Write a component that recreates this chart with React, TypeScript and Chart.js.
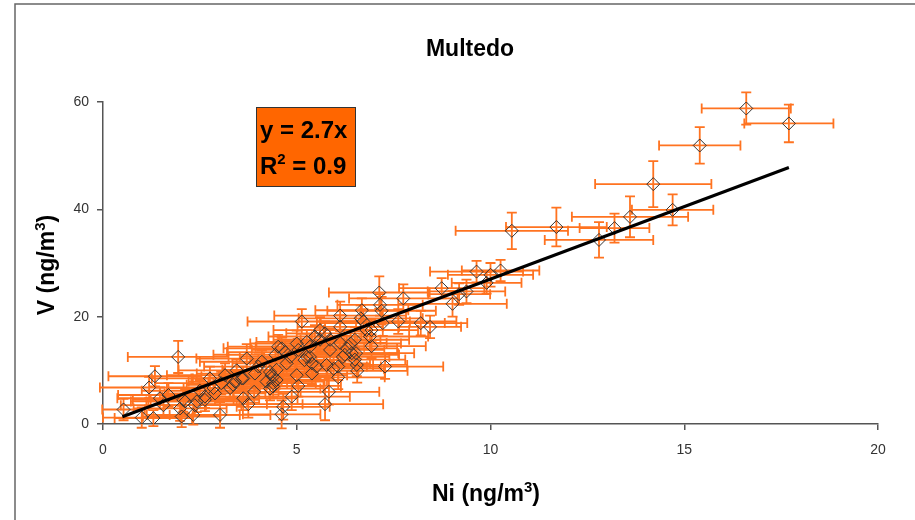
import React, { useEffect, useRef } from "react";
import { Chart, registerables } from "chart.js";

Chart.register(...registerables);

// ---- Data ----
const chartTitle = "Multedo";
const xTitleMain = "Ni (ng/m";
const yTitleMain = "V (ng/m";
const unitSup = "3";
const eqLine1 = "y = 2.7x";
const eqLine2Pre = "R";
const eqLine2Sup = "2";
const eqLine2Post = " = 0.9";

const niValues = [
  16.6, 17.7, 15.4, 14.2, 14.7, 13.6, 13.2, 12.8, 11.7, 10.55,
  10.26, 10.0, 9.9, 9.64, 9.38, 9.19, 9.02, 8.74, 8.44, 8.2,
  7.75, 7.62, 7.22, 7.13, 7.15, 7.19, 6.68, 6.65, 6.93, 7.28,
  6.56, 6.12, 6.12, 6.39, 6.53, 6.19, 6.07, 6.07, 5.83, 5.73,
  5.13, 5.6, 5.73, 5.86, 5.47, 5.34, 5.26, 5.51, 5.77, 5.86,
  5.04, 5.0, 5.04, 4.87, 4.65, 4.61, 4.39, 4.22, 4.35, 4.48,
  3.71, 3.92, 3.9, 3.75, 3.36, 4.52, 4.61, 5.0, 4.74, 4.83,
  5.39, 6.29, 0.53, 1.0, 1.3, 1.19, 1.34, 1.94, 1.47, 1.69,
  1.99, 2.03, 2.33, 2.12, 2.42, 2.63, 2.76, 3.02, 2.85, 3.15,
  3.28, 3.62, 4.01, 4.31, 4.48, 5.34, 6.93, 6.42, 6.5, 6.72,
  6.8, 6.89, 5.26, 6.12, 4.39, 4.39, 4.31, 5.39, 6.24, 6.5,
  6.55, 1.56, 2.07, 2.37, 2.63, 3.58, 3.41, 3.62, 2.89, 5.6,
  4.45, 4.7, 5.2, 3.05, 2.5, 5.95, 4.1, 3.45
];
const vValues = [
  58.8, 56.0, 51.9, 44.7, 39.9, 38.6, 36.5, 34.3, 36.7, 36.0,
  28.6, 27.8, 26.3, 28.4, 24.7, 24.2, 22.4, 25.3, 18.1, 18.8,
  23.4, 19.1, 18.8, 24.5, 22.2, 21.1, 21.2, 19.7, 17.5, 10.7,
  9.9, 20.2, 18.1, 15.0, 13.2, 12.5, 10.7, 8.7, 6.0, 3.7,
  19.1, 17.5, 16.9, 15.7, 16.3, 14.4, 12.5, 10.7, 11.0, 13.8,
  13.8, 9.1, 7.1, 5.1, 3.2, 1.8, 7.0, 7.9, 9.1, 10.1,
  12.2, 9.4, 6.0, 3.7, 7.3, 14.4, 14.1, 15.0, 11.3, 12.5,
  11.3, 14.1, 2.7, 1.2, 1.1, 6.8, 8.9, 12.5, 4.8, 5.4,
  2.9, 1.4, 1.7, 4.2, 4.2, 5.1, 8.5, 1.7, 6.7, 9.1,
  6.7, 8.5, 10.7, 9.7, 8.2, 12.5, 14.5, 13.2, 12.0, 19.1,
  17.5, 16.3, 15.3, 15.1, 8.8, 7.6, 6.6, 9.4, 12.9, 15.7,
  11.0, 3.5, 4.5, 3.5, 4.5, 8.5, 7.9, 4.8, 5.7, 15.7,
  12.9, 13.4, 11.9, 7.6, 6.2, 10.3, 11.6, 10.0
];
const niErrors = [
  1.15, 1.15, 1.05, 1.5, 1.05, 1.5, 0.9, 1.4, 1.3, 1.45,
  1.0, 1.1, 0.9, 1.2, 1.0, 0.8, 1.4, 1.1, 0.8, 1.2,
  1.4, 1.5, 1.6, 1.3, 1.1, 1.4, 1.2, 1.6, 1.2, 1.5,
  1.3, 1.7, 1.1, 1.3, 1.5, 1.2, 1.1, 1.2, 1.3, 1.5,
  1.4, 1.2, 1.0, 1.3, 1.2, 1.4, 1.1, 1.3, 1.2, 1.4,
  1.2, 1.3, 1.1, 1.5, 1.2, 1.0, 1.3, 1.5, 1.2, 1.4,
  1.3, 1.5, 1.2, 1.4, 1.2, 1.3, 1.5, 1.2, 1.4, 1.3,
  1.5, 1.3, 0.55, 1.0, 1.0, 1.27, 1.2, 1.3, 1.1, 1.3,
  1.2, 1.0, 1.2, 1.4, 1.3, 1.1, 1.5, 1.3, 1.2, 1.5,
  1.2, 1.3, 1.4, 1.2, 1.3, 1.2, 1.4, 1.2, 1.3, 1.2,
  1.1, 1.5, 1.3, 1.2, 1.4, 1.1, 1.3, 1.2, 1.4, 1.4,
  1.3, 1.1, 1.3, 1.2, 1.4, 1.3, 1.2, 1.4, 1.3, 1.2,
  1.6, 1.5, 1.4, 1.7, 1.5, 1.3, 1.6, 1.5
];
const vErrors = [
  3.0, 3.5, 3.4, 4.3, 2.9, 3.8, 2.7, 3.3, 3.6, 3.4,
  2.0, 2.2, 2.0, 2.0, 2.2, 2.0, 2.4, 1.9, 2.1, 2.3,
  2.6, 2.3, 2.4, 3.0, 2.0, 2.6, 2.2, 2.4, 2.0, 2.3,
  2.2, 2.6, 2.2, 2.4, 2.3, 2.0, 2.5, 2.2, 2.4, 3.0,
  2.3, 2.4, 2.2, 2.0, 2.1, 2.4, 2.0, 2.3, 2.1, 2.2,
  2.0, 2.2, 2.0, 2.5, 2.4, 2.6, 2.2, 2.0, 2.1, 2.4,
  2.7, 2.2, 2.0, 2.5, 2.2, 2.2, 2.0, 2.4, 2.1, 2.2,
  2.0, 2.3, 2.0, 1.9, 1.5, 2.0, 1.9, 3.0, 2.0, 2.2,
  2.3, 2.0, 1.8, 2.2, 2.0, 2.1, 2.2, 2.4, 2.0, 2.2,
  1.9, 2.2, 2.3, 2.0, 2.2, 2.1, 2.2, 2.0, 2.2, 2.3,
  2.0, 2.4, 2.2, 2.2, 2.0, 2.1, 2.2, 2.0, 2.3, 2.3,
  2.1, 2.0, 2.2, 2.0, 2.1, 2.2, 2.0, 2.2, 2.1, 2.2,
  2.2, 2.0, 2.3, 2.1, 2.0, 2.2, 2.1, 2.0
];
const trendNi = [0.5, 17.7];
const trendV = [1.35, 47.8];
const xMin = 0, xMax = 20, xStep = 5;
const yMin = 0, yMax = 60, yStep = 20;

const FONT = "'Liberation Sans', Arial, sans-serif";
const ORANGE = "#FF7320";

const errorBarsPlugin = {
  id: "errorBars",
  beforeDatasetsDraw(chart: any) {
    const xs = chart.scales.x;
    const ys = chart.scales.y;
    const ctx = chart.ctx;
    ctx.save();
    ctx.strokeStyle = ORANGE;
    ctx.lineWidth = 1.8;
    const cap = 5;
    for (let i = 0; i < niValues.length; i++) {
      const px = xs.getPixelForValue(niValues[i]);
      const py = ys.getPixelForValue(vValues[i]);
      const x0 = xs.getPixelForValue(niValues[i] - niErrors[i]);
      const x1 = xs.getPixelForValue(niValues[i] + niErrors[i]);
      const y0 = ys.getPixelForValue(vValues[i] - vErrors[i]);
      const y1 = ys.getPixelForValue(vValues[i] + vErrors[i]);
      ctx.beginPath();
      ctx.moveTo(x0, py); ctx.lineTo(x1, py);
      ctx.moveTo(x0, py - cap); ctx.lineTo(x0, py + cap);
      ctx.moveTo(x1, py - cap); ctx.lineTo(x1, py + cap);
      ctx.moveTo(px, y0); ctx.lineTo(px, y1);
      ctx.moveTo(px - cap, y0); ctx.lineTo(px + cap, y0);
      ctx.moveTo(px - cap, y1); ctx.lineTo(px + cap, y1);
      ctx.stroke();
    }
    ctx.restore();
  },
};

function drawSupText(ctx: any, main: string, sup: string, tail: string, size: number, supSize: number, cx: number, cy: number, align: "center" | "left") {
  ctx.font = `bold ${size}px ${FONT}`;
  const w1 = ctx.measureText(main).width;
  const w3 = ctx.measureText(tail).width;
  ctx.font = `bold ${supSize}px ${FONT}`;
  const w2 = ctx.measureText(sup).width;
  const total = w1 + w2 + w3;
  let x = align === "center" ? cx - total / 2 : cx;
  ctx.textBaseline = "alphabetic";
  ctx.textAlign = "left";
  const base = cy + size * 0.36;
  ctx.font = `bold ${size}px ${FONT}`;
  ctx.fillText(main, x, base);
  x += w1;
  ctx.font = `bold ${supSize}px ${FONT}`;
  ctx.fillText(sup, x, base - size * 0.42);
  x += w2;
  ctx.font = `bold ${size}px ${FONT}`;
  ctx.fillText(tail, x, base);
}

const decorPlugin = {
  id: "decor",
  beforeDraw(chart: any) {
    const ctx = chart.ctx;
    ctx.save();
    ctx.fillStyle = "#ffffff";
    ctx.fillRect(0, 0, chart.width, chart.height);
    ctx.strokeStyle = "#666666";
    ctx.lineWidth = 1.5;
    ctx.strokeRect(15, 4, 960, 560);
    ctx.restore();
  },
  afterDraw(chart: any) {
    const ctx = chart.ctx;
    ctx.save();
    ctx.fillStyle = "#000000";
    // title
    ctx.font = `bold 23px ${FONT}`;
    ctx.textAlign = "center";
    ctx.textBaseline = "middle";
    ctx.fillText(chartTitle, 470, 50);
    // x title
    drawSupText(ctx, xTitleMain, unitSup, ")", 23, 15, 486, 493, "center");
    // y title (rotated)
    ctx.save();
    ctx.translate(46, 265);
    ctx.rotate(-Math.PI / 2);
    drawSupText(ctx, yTitleMain, unitSup, ")", 23, 15, 0, 0, "center");
    ctx.restore();
    // equation box
    ctx.fillStyle = "#FF6600";
    ctx.fillRect(256, 107, 100, 80);
    ctx.strokeStyle = "#333333";
    ctx.lineWidth = 1;
    ctx.strokeRect(256.5, 107.5, 99, 79);
    ctx.fillStyle = "#000000";
    ctx.font = `bold 24px ${FONT}`;
    ctx.textAlign = "left";
    ctx.textBaseline = "middle";
    ctx.fillText(eqLine1, 260, 131);
    drawSupText(ctx, eqLine2Pre, eqLine2Sup, eqLine2Post, 24, 15, 260, 165, "left");
    ctx.restore();
  },
};

export default function App() {
  const canvasRef = useRef<HTMLCanvasElement | null>(null);

  useEffect(() => {
    if (!canvasRef.current) return;
    const points = niValues.map((x, i) => ({ x, y: vValues[i] }));
    const trend = trendNi.map((x, i) => ({ x, y: trendV[i] }));
    const chart = new Chart(canvasRef.current, {
      type: "scatter",
      data: {
        datasets: [
          {
            type: "line",
            data: trend,
            borderColor: "#000000",
            borderWidth: 3,
            pointRadius: 0,
            fill: false,
            order: 0,
          } as any,
          {
            data: points,
            pointStyle: "rectRot",
            pointRadius: 6.5,
            pointBackgroundColor: "rgba(0,0,0,0)",
            pointBorderColor: "#333333",
            pointBorderWidth: 1,
            order: 1,
          },
        ],
      },
      options: {
        responsive: false,
        animation: false,
        events: [],
        layout: { padding: { top: 102, right: 37, left: 0, bottom: 0 } },
        plugins: {
          legend: { display: false },
          tooltip: { enabled: false },
          title: { display: false },
        },
        scales: {
          x: {
            type: "linear",
            min: xMin,
            max: xMax,
            ticks: {
              stepSize: xStep,
              color: "#333333",
              font: { family: FONT, size: 14 },
              padding: 12,
            },
            grid: {
              drawOnChartArea: false,
              drawTicks: true,
              tickLength: 6,
              color: "#555555",
              lineWidth: 1.5,
            },
            border: { display: true, color: "#555555", width: 1.5 },
            afterFit: (scale: any) => {
              scale.height = 96;
            },
          },
          y: {
            type: "linear",
            min: yMin,
            max: yMax,
            ticks: {
              stepSize: yStep,
              color: "#333333",
              font: { family: FONT, size: 14 },
              padding: 8,
            },
            grid: {
              drawOnChartArea: false,
              drawTicks: true,
              tickLength: 6,
              color: "#555555",
              lineWidth: 1.5,
            },
            border: { display: true, color: "#555555", width: 1.5 },
            afterFit: (scale: any) => {
              scale.width = 103;
            },
          },
        },
      },
      plugins: [errorBarsPlugin, decorPlugin],
    });
    return () => chart.destroy();
  }, []);

  return (
    <div style={{ position: "absolute", left: 0, top: 0, width: 915, height: 520, background: "#fff" }}>
      <canvas ref={canvasRef} width={915} height={520} style={{ width: 915, height: 520, display: "block" }} />
    </div>
  );
}
